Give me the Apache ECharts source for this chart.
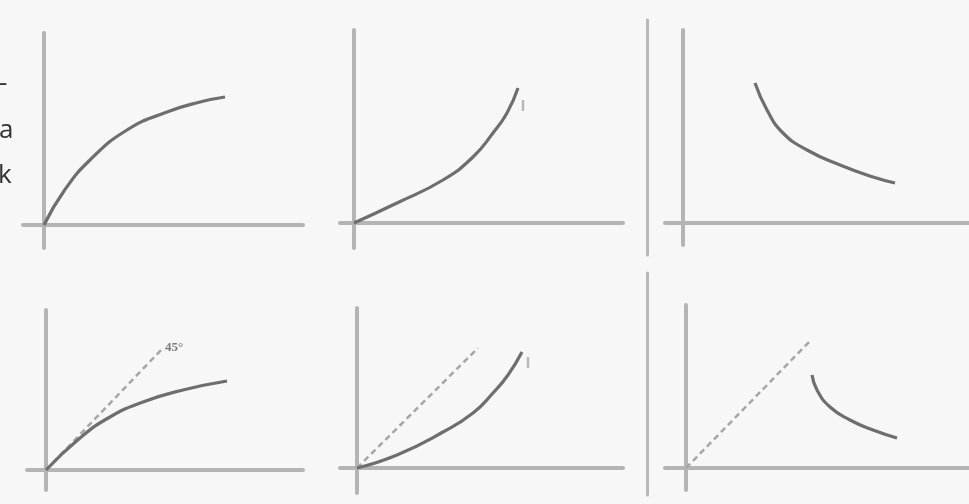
<!DOCTYPE html>
<html>
<head>
<meta charset="utf-8">
<script src="https://cdn.jsdelivr.net/npm/echarts@6/dist/echarts.min.js"></script>
<style>
html,body{margin:0;padding:0;background:#f7f7f7;}
#main{width:969px;height:504px;}
</style>
</head>
<body>
<div id="main"></div>
<script>
// curve data, each panel in its own units (origin at 0,0)
var curveA=[[0,0],[2.0,3.4],[4.6,6.5],[8.3,9.5],[12.3,11.3],[15.6,12.3],[18.1,12.8]];
var curveB=[[0,0],[4.3,2.0],[8.9,4.3],[11.9,6.6],[13.9,9.0],[15.3,11.0],[16.4,13.5]];
var curveC=[[7.2,14.0],[8.4,11.3],[10.0,9.0],[12.4,7.3],[15.7,5.8],[19.0,4.6],[21.2,4.0]];
var curveD=[[0,0],[3.4,3.2],[6.4,5.3],[9.7,6.8],[13.7,8.0],[18.1,8.9]];
var curveE=[[0,0],[4.0,1.3],[8.6,3.6],[11.6,5.5],[13.6,7.5],[15.1,9.3],[16.5,11.6]];
var curveF=[[12.6,9.3],[13.1,7.8],[14.4,6.1],[16.4,4.8],[18.7,3.8],[21.1,3.0]];
// 45 degree reference lines
var diagD=[[0,0],[11.7,12.2]];
var diagE=[[0,0],[12.1,12.0]];
var diagF=[[0,0],[12.5,12.8]];
// small scan marks near curve ends
var tickB=[[16.9,12.3],[16.9,11.2]];
var tickE=[[17.1,11.1],[17.1,10.0]];

// panel boxes: grid position + axis ranges
var panels=[
    {left:23,top:33,width:280,height:215,x:[-2.1,25.9],y:[-2.3,19.2]},
    {left:340,top:30,width:283,height:218,x:[-1.4,26.9],y:[-2.5,19.3]},
    {left:665,top:30,width:304,height:215,x:[-1.8,28.6],y:[-2.2,19.3]},
    {left:27,top:310,width:276,height:180,x:[-1.9,25.7],y:[-2.0,16.0]},
    {left:340,top:308,width:283,height:185,x:[-1.7,26.6],y:[-2.5,16.0]},
    {left:665,top:305,width:304,height:185,x:[-2.1,28.3],y:[-2.2,16.3]}
];
// scan edges between panels
var edges=[
    {left:647,top:20,height:235},
    {left:647,top:273,height:222}
];

var axisColor='#b4b4b4';
var grid=[],xAxis=[],yAxis=[];
panels.forEach(function(p,i){
    grid.push({left:p.left,top:p.top,width:p.width,height:p.height});
    xAxis.push({type:'value',gridIndex:i,min:p.x[0],max:p.x[1],
        axisLine:{show:true,onZero:true,lineStyle:{color:axisColor,width:4}},
        axisTick:{show:false},axisLabel:{show:false},splitLine:{show:false}});
    yAxis.push({type:'value',gridIndex:i,min:p.y[0],max:p.y[1],
        axisLine:{show:true,onZero:true,lineStyle:{color:axisColor,width:4}},
        axisTick:{show:false},axisLabel:{show:false},splitLine:{show:false}});
});
edges.forEach(function(e,k){
    var gi=panels.length+k;
    grid.push({left:e.left,top:e.top,width:2,height:e.height});
    xAxis.push({type:'value',gridIndex:gi,min:0,max:1,show:false});
    yAxis.push({type:'value',gridIndex:gi,min:0,max:1,
        axisLine:{show:true,onZero:false,lineStyle:{color:'#b8b8b8',width:3}},
        axisTick:{show:false},axisLabel:{show:false},splitLine:{show:false}});
});

function curve(data,i){
    return {type:'line',xAxisIndex:i,yAxisIndex:i,data:data,smooth:0.5,
        showSymbol:false,silent:true,lineStyle:{color:'#6e6e6e',width:3.2}};
}
function diag(data,i,label){
    var s={type:'line',xAxisIndex:i,yAxisIndex:i,data:data,showSymbol:false,silent:true,
        lineStyle:{color:'#a6a6a6',width:2.5,type:[6,4]}};
    if(label){
        s.endLabel={show:true,formatter:label,color:'#7a7a7a',fontSize:13,fontWeight:'bold',
            distance:2,fontFamily:'Liberation Serif'};
    }
    return s;
}
function mark(data,i){
    return {type:'line',xAxisIndex:i,yAxisIndex:i,data:data,showSymbol:false,silent:true,
        lineStyle:{color:'#b8b8b8',width:2.5}};
}

var myChart=echarts.init(document.getElementById('main'));
var option={
    backgroundColor:'#f7f7f7',
    animation:false,
    grid:grid,
    xAxis:xAxis,
    yAxis:yAxis,
    graphic:[
        {type:'text',left:-1,top:71,style:{text:'-',fontSize:26,fill:'#333',fontFamily:'Open Sans'}},
        {type:'text',left:-1,top:118,style:{text:'a',fontSize:26,fill:'#333',fontFamily:'Open Sans'}},
        {type:'text',left:-2,top:163,style:{text:'k',fontSize:26,fill:'#333',fontFamily:'Open Sans'}}
    ],
    series:[
        curve(curveA,0),
        curve(curveB,1),
        mark(tickB,1),
        curve(curveC,2),
        diag(diagD,3,'45°'),
        curve(curveD,3),
        diag(diagE,4),
        curve(curveE,4),
        mark(tickE,4),
        diag(diagF,5),
        curve(curveF,5)
    ]
};
myChart.setOption(option);
</script>
</body>
</html>
